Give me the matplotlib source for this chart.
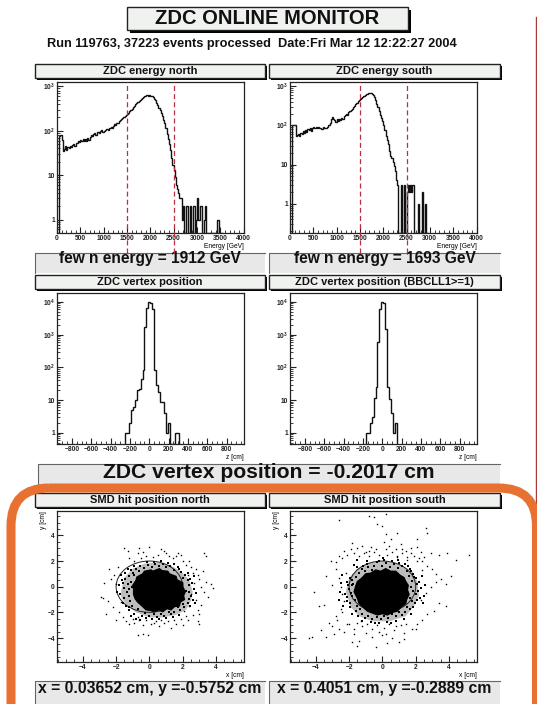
import numpy as np
import matplotlib
matplotlib.use("Agg")
import matplotlib.pyplot as plt
from matplotlib.patches import Rectangle, FancyBboxPatch, Ellipse, Polygon
from matplotlib.ticker import FixedLocator, FixedFormatter, MultipleLocator

plt.rcParams['font.family'] = ['Liberation Sans', 'DejaVu Sans']
plt.rcParams['font.weight'] = 'bold'
plt.rcParams['mathtext.fontset'] = 'custom'
plt.rcParams['mathtext.bf'] = 'Liberation Sans:bold'
plt.rcParams['mathtext.rm'] = 'Liberation Sans:bold'

W, H = 537, 704

# counts per 25 GeV bin, starting at 0 GeV
energy_north = [0, 0, 75, 80, 62, 35, 38, 46, 36, 44, 40, 46, 42, 48, 50, 46, 54, 52, 58, 56,
                62, 60, 64, 58, 66, 60, 70, 62, 72, 82, 78, 84, 90, 82, 92, 96, 90, 98, 104, 96,
                100, 104, 108, 112, 104, 118, 124, 116, 128, 140, 132, 146, 150, 165, 172, 185,
                190, 205, 215, 230, 240, 255, 275, 295, 310, 335, 365, 395, 420, 445, 470, 500,
                530, 555, 580, 610, 625, 640, 615, 630, 600, 590, 560, 525, 490, 430, 380, 330,
                290, 250, 215, 175, 150, 115, 85, 66, 50, 36, 25, 17, 13, 9, 6, 5, 4, 3, 3, 1,
                2, 0, 0, 2, 0, 0, 2, 0, 0, 2, 0, 1, 3, 1, 1, 2, 0, 0, 1, 2, 0, 0, 0, 0, 0, 0, 0,
                0, 0, 1, 1, 0, 0, 0]
energy_south = [0, 0, 100, 100, 100, 55, 58, 62, 55, 66, 60, 72, 65, 78, 70, 82, 76, 88, 72, 85,
                90, 84, 92, 86, 90, 84, 88, 80, 90, 84, 86, 88, 92, 100, 118, 145, 165, 150, 140,
                125, 145, 130, 150, 135, 155, 145, 170, 180, 195, 185, 215, 230, 255, 265, 300,
                320, 355, 385, 420, 445, 480, 510, 540, 570, 595, 620, 650, 665, 680, 670, 650,
                590, 520, 440, 360, 290, 235, 190, 160, 130, 105, 75, 55, 42, 33, 22, 17, 15, 12,
                9, 7, 4, 3, 0, 0, 3, 0, 0, 3, 0, 2, 3, 2, 3, 2, 3, 0, 0, 0, 0, 1, 0, 0, 2, 0, 0, 1, 0]
energy_bin = 25
energy_cuts = [1500, 2500]

# counts per 20 cm bin
vertex_north = [1, 1, 2, 5, 6, 10, 20, 22, 45, 85, 1700, 6300, 10000, 9500, 6000, 85, 30, 18, 9, 9,
                4, 1, 2, 0, 0, 0, 1, 1]
vertex_north_start = -250
vertex_south = [1, 1, 2, 3, 12, 25, 600, 6000, 10000, 9000, 1500, 25, 11, 4, 1, 2]
vertex_south_start = -170
vertex_bin = 20

# dense core and surrounding halo of the SMD hit maps, outlines
core_north_x = [-0.95, -1.0, -0.8, -0.75, -0.4, -0.3, 0.1, 0.2, 0.6, 0.75, 1.1, 1.2, 1.6, 1.65, 2.0, 2.0, 2.15, 2.05, 2.1, 1.85,
                1.8, 1.5, 1.3, 1.05, 0.8, 0.55, 0.3, 0.05, -0.2, -0.4, -0.7, -0.85, -0.95]
core_north_y = [-0.2, 0.1, 0.5, 0.75, 1.0, 1.2, 1.3, 1.2, 1.4, 1.25, 1.2, 1.0, 0.8, 0.55, 0.3, 0.0, -0.4, -0.7, -1.0, -1.2,
                -1.5, -1.55, -1.8, -1.7, -1.95, -1.8, -1.95, -1.85, -1.8, -1.55, -1.2, -0.95, -0.6]
halo_north_x = [-1.7, -1.5, -1.0, -0.3, 0.5, 1.2, 1.9, 2.4, 2.6, 2.5, 2.2, 1.6, 0.8, 0.0, -0.8, -1.4, -1.7]
halo_north_y = [-0.3, 0.7, 1.4, 1.8, 1.9, 1.7, 1.2, 0.5, -0.4, -1.1, -1.8, -2.2, -2.4, -2.4, -2.0, -1.4, -0.8]
core_south_x = [-1.7, -1.6, -1.5, -1.25, -1.0, -0.7, -0.4, -0.1, 0.2, 0.5, 0.8, 1.05, 1.3, 1.4, 1.55, 1.5, 1.6, 1.45, 1.4, 1.1,
                0.9, 0.6, 0.3, 0.0, -0.3, -0.6, -0.9, -1.15, -1.4, -1.5, -1.7]
core_south_y = [-0.4, 0.05, 0.4, 0.65, 1.0, 1.05, 1.3, 1.2, 1.4, 1.2, 1.2, 0.9, 0.7, 0.4, 0.1, -0.25, -0.6, -1.0, -1.3, -1.6,
                -1.9, -2.0, -2.2, -2.1, -2.2, -2.05, -1.9, -1.6, -1.3, -0.9, -0.4]
halo_south_x = [-2.2, -2.0, -1.5, -0.7, 0.2, 1.1, 1.8, 2.1, 2.2, 1.9, 1.4, 0.4, -0.6, -1.4, -1.9, -2.2]
halo_south_y = [-0.4, 0.7, 1.4, 1.9, 2.0, 1.7, 1.2, 0.4, -0.7, -1.5, -2.3, -2.7, -2.7, -2.3, -1.6, -0.4]
guide_radius = 2

# single hits outside the core
north_x = [-1.5, -1.3, -0.6, -0.4, 0.0, 0.7, 0.9, 1.2, 1.7, 1.9, 3.3, 3.4, -0.5, -0.2, 0.2, 0.5, 1.0, 1.4, 1.6,
           -1.2, -0.9, -0.7, 2.0, 2.2, 2.4, 2.5, 2.6, 2.8, 2.9, 3.0, 3.2, 3.4, 3.7, 3.8, 2.3, 2.7, 3.1, 3.3,
           -2.4, -2.3, -2.1, -2.0, -1.9, -2.8, -2.7, -2.9, -2.5, -2.2, -1.8, -1.6, -1.7, -2.6, -2.0, -1.4,
           -1.2, -0.9, -0.7, -0.4, 0.1, 0.4, 0.6, 0.9, 1.3, 1.6, 2.0, 2.3, 2.9, 3.0, -0.7, -0.4, -0.1,
           -1.0, -0.6, -0.2, 0.3, 0.7, 1.1, 1.5, 1.9, 2.6, 2.9, 3.1, 2.8, 2.5, 3.5, 3.0, 2.2, 2.1, 2.4]
north_y = [3.0, 2.8, 3.0, 2.7, 3.1, 2.9, 2.8, 2.4, 2.6, 2.5, 2.6, 2.4, 2.2, 2.4, 2.3, 2.5, 2.6, 2.2, 2.4,
           2.2, 2.0, 2.6, 2.0, 1.7, 2.0, 1.5, 1.1, 1.4, 0.9, 0.6, 1.2, 0.4, 0.2, -0.1, 0.9, 0.3, 0.0, -0.4,
           1.4, 0.6, 0.9, 0.2, 1.5, -0.9, 0.3, -0.8, -1.1, -1.6, -2.0, -2.4, -1.2, -2.1, -2.6, -2.7,
           -2.9, -2.8, -2.4, -3.0, -2.9, -2.7, -3.1, -2.8, -3.2, -2.9, -3.0, -2.6, -2.7, -2.9, -3.8, -3.7, -3.8,
           -2.5, -2.6, -2.6, -2.8, -2.6, -2.7, -2.6, -2.5, -2.2, -1.8, -1.4, -1.0, -0.6, -0.8, -2.1, -2.3, -1.9, -1.5]
south_x = [-0.8, -0.5, 0.2, -2.6, -0.3, 0.0, 2.6, 2.7, 0.9, 2.1, 0.2, 0.5, -1.8, -1.5, -1.2, -1.0, -0.7, -0.4, 0.1, 0.4, 0.8,
           1.1, 1.4, 1.7, 2.1, 2.3, 2.5, 2.9, 3.4, 3.9, 4.4, 5.2, -3.1, -2.8, -2.6, -2.4, -2.3, -2.1, -1.9,
           -1.7, -1.4, -1.1, -0.8, -0.5, -0.2, 0.3, 0.6, 0.9, 1.2, 1.5, 1.9, 2.2, 2.4, 2.7, 3.0, 3.2, 3.5, 3.8, 4.1,
           -4.1, -3.8, -3.5, -3.4, -3.0, -2.8, -2.6, -2.5, -2.4, -2.2, -2.3, -2.5, -2.8, -3.2, -3.7, -4.2, -4.4,
           -3.4, -3.0, -2.9, -2.6, -2.3, -2.0, -1.7, -1.5, -1.2, -0.9, -0.6, -0.3, 0.1, 0.4, 0.8, 1.1, 1.4, 1.8, 2.1,
           2.4, 2.7, 3.1, 3.4, 3.8, 2.3, 2.6, 2.9, 3.2, -1.0, -0.6, -0.2, 0.2, 0.7, 1.3, 2.0, -1.8, -1.4, 0.3,
           -0.4, -1.5, 1.0, 1.3, 0.6, 0.0, -2.7, -2.4, -2.1, -1.7, -1.3, 2.4, 2.1, 1.7, 1.5, 1.2, 0.9, -0.8, 0.2]
south_y = [5.5, 5.4, 5.7, 5.2, 4.9, 4.7, 4.6, 4.2, 4.2, 3.7, 4.1, 3.7, 3.4, 3.0, 3.2, 2.7, 3.1, 2.9, 3.5, 3.2, 2.9,
           3.3, 2.8, 3.0, 3.1, 2.7, 2.3, 2.6, 2.5, 2.6, 2.1, 2.5, 2.0, 1.9, 2.4, 2.2, 2.8, 2.5, 2.9,
           2.6, 2.4, 2.6, 2.4, 2.7, 2.5, 2.5, 2.7, 2.4, 2.6, 2.3, 2.4, 2.2, 2.0, 1.6, 1.4, 1.0, 0.6, 0.2, 0.8,
           -0.4, -1.5, -1.4, 0.8, 0.1, 1.4, 0.7, 0.0, -0.6, 1.1, -1.1, -1.7, -2.3, -2.8, -3.4, -3.9, -4.0,
           -3.9, -3.1, -3.7, -3.3, -3.5, -2.9, -3.3, -2.8, -3.1, -2.9, -3.3, -3.0, -3.2, -2.9, -3.1, -3.0, -2.9, -3.3, -2.9,
           -2.6, -2.1, -1.9, -1.3, -1.5, -1.0, -0.5, 0.0, 0.4, -3.6, -3.9, -3.5, -3.7, -3.4, -3.6, -3.3, -4.3, -4.2, -4.4,
           -4.7, -4.6, -4.3, -4.1, -4.0, -3.8, -2.6, -2.0, -2.9, -3.7, -2.7, 1.3, 2.0, 2.6, 2.1, 2.9, 2.3, 2.8, 2.9]

# extra hits in the ragged ring right round the core
ring_north_x = [-1.6, -1.45, -1.3, -1.2, -1.1, -1.55, -1.35, -1.2, -1.05, -1.75, -1.5, -1.25, -1.15, -1.6, -1.4, -1.2,
                -1.0, -0.8, -0.6, -0.9, -0.55, -0.3, -0.1, 0.15, 0.35, 0.55, 0.8, 1.0, 1.25, 1.5, 1.7, 1.9, 2.15, 2.3, 2.45,
                -0.15, 0.25, 0.7, 1.1, 1.45, 1.75, 2.0, 2.3, 2.4, 2.55, 2.65, 2.4, 2.5, 2.35, 2.2, 2.3, 2.45, 2.1, 2.0, 1.85,
                1.7, 1.5, 1.3, 1.15, 0.9, 0.7, 0.45, 0.25, 0.0, -0.25, -0.45, -0.7, -0.9, -1.05, -1.25, -1.1, -0.8, -0.55, -0.2,
                0.15, 0.6, 1.0, 1.4, 1.8, -1.7, -1.85, -1.95, -1.45, -1.3, -1.65, -1.1, -0.95, 2.7, 2.8, 2.6, 2.75]
ring_north_y = [0.3, 0.6, 0.2, 0.8, 0.4, -0.1, -0.4, -0.2, -0.05, -0.6, -0.9, -0.7, -1.1, -1.3, -1.5, -1.6,
                1.1, 1.4, 1.2, 0.9, 1.6, 1.45, 1.7, 1.55, 1.8, 1.6, 1.75, 1.5, 1.6, 1.3, 1.5, 1.15, 0.9, 1.1, 0.6,
                1.9, 1.95, 2.0, 1.85, 1.75, 1.4, 0.7, 0.5, 0.1, 0.3, -0.2, -0.4, -0.7, -0.95, -0.3, -1.3, -1.5, -1.6, -1.35, -1.85,
                -1.6, -1.95, -2.1, -1.95, -2.25, -2.1, -2.35, -2.15, -2.3, -2.05, -2.3, -1.75, -2.1, -1.5, -1.8, -2.3, -2.5, -2.6, -2.45,
                -2.55, -2.5, -2.45, -2.35, -2.2, 0.9, 0.1, -0.4, 1.1, 1.35, 0.5, 1.3, 1.6, 0.8, -0.5, -1.0, -1.3]
ring_south_x = [-2.1, -1.95, -1.85, -2.0, -1.9, -2.15, -2.05, -1.85, -1.75, -1.6, -2.25, -2.1, -1.95, -1.8, -1.65, -1.5, -1.35,
                -1.4, -1.25, -1.05, -0.85, -0.65, -1.5, -1.15, -0.9, -0.5, -0.3, -0.05, 0.2, 0.45, 0.7, 0.95, 1.2, 1.45, 1.65, 1.85, 2.0,
                -0.2, 0.1, 0.55, 1.0, 1.35, 1.7, 1.6, 1.75, 1.9, 2.05, 2.2, 2.3, 1.7, 1.85, 2.0, 2.15, 2.25, 1.65, 1.8, 1.95, 2.1, 1.5, 1.65, 1.85,
                1.35, 1.2, 1.0, 0.8, 0.6, 0.35, 0.1, -0.1, -0.35, -0.6, -0.85, -1.05, -1.25, -1.45, -1.6, -1.8, -1.95, -1.2, -0.7, -0.2, 0.3, 0.8, 1.3,
                -2.4, -2.5, -2.55, -2.35, -2.6, 2.4, 2.55, 2.5, 2.45, -1.7, -1.5, 1.55, 1.7, -0.95, 0.95, -0.45, 0.5, 0.05]
ring_south_y = [0.4, 0.7, 0.1, -0.2, -0.5, -0.8, 0.15, 0.5, 0.2, 0.75, -0.6, -1.1, -1.3, -0.7, -1.0, -1.5, -1.75,
                1.1, 1.35, 1.2, 1.5, 1.3, 1.55, 1.65, 1.8, 1.65, 1.9, 1.6, 1.85, 1.55, 1.75, 1.45, 1.6, 1.25, 1.4, 1.0, 0.7,
                2.0, 2.05, 2.0, 1.85, 1.75, 1.25, 0.8, 0.45, 0.75, 0.2, 0.4, -0.1, -0.05, -0.35, -0.6, -0.3, -0.9, -0.85, -1.15, -1.3, -1.0, -1.55, -1.75, -1.6,
                -2.0, -2.2, -1.95, -2.3, -2.15, -2.45, -2.3, -2.55, -2.35, -2.55, -2.25, -2.45, -2.1, -2.3, -1.9, -2.1, -1.6, -2.7, -2.75, -2.8, -2.75, -2.7, -2.5,
                0.9, 0.3, -0.4, -1.5, -1.0, 0.85, 0.1, -0.7, -1.3, 1.7, 2.05, 1.65, -2.1, 2.0, 2.1, -2.85, -2.85, 2.2]

fig = plt.figure(figsize=(W / 100, H / 100), dpi=100, facecolor='white')

# whole figure overlays in picture pixels, for header boxes and the orange frame
bg = fig.add_axes([0, 0, 1, 1], zorder=0)
fg = fig.add_axes([0, 0, 1, 1], zorder=10)
for a in (bg, fg):
    a.set_xlim(0, W)
    a.set_ylim(H, 0)
    a.axis('off')
    a.patch.set_alpha(0)


def box(x0, y0, x1, y1, text, size, shadow=1.5, fill='#f0f2f0', ty=None, lw=1.0):
    if shadow:
        bg.add_patch(Rectangle((x0 + shadow, y0 + shadow), x1 - x0, y1 - y0, fc='black', ec='none'))
    bg.add_patch(Rectangle((x0, y0), x1 - x0, y1 - y0, fc=fill, ec='#222222', lw=lw))
    bg.text((x0 + x1) / 2, (y0 + y1) / 2 if ty is None else ty, text, ha='center', va='center',
            fontsize=size, color='#111111')


def bar(x0, y0, x1, y1, text, size, ty):
    bg.add_patch(Rectangle((x0, y0), x1 - x0, y1 - y0, fc='#e8e8e8', ec='none'))
    bg.plot([x0, x0, x1], [y1, y0, y0], color='#666666', lw=0.8)
    bg.text((x0 + x1) / 2, ty, text, ha='center', va='center', fontsize=size, color='#111111')


def panel(x0, y0, x1, y1):
    ax = fig.add_axes([x0 / W, 1 - y1 / H, (x1 - x0) / W, (y1 - y0) / H], zorder=5)
    for s in ax.spines.values():
        s.set_linewidth(0.9)
        s.set_color('#222222')
    ax.tick_params(which='major', direction='in', length=4, width=0.8, labelsize=4.8, pad=1.5,
                   top=False, right=False, colors='#222222')
    ax.tick_params(which='minor', direction='in', length=2, width=0.6, top=False, right=False,
                   colors='#222222')
    return ax


def log_axis(ax, lo, hi, top_power):
    ax.set_yscale('log')
    ax.set_ylim(lo, hi)
    ticks = [10.0 ** p for p in range(top_power + 1)]
    labels = ['1', '10'] + [rf'$\mathbf{{10^{{{p}}}}}$' for p in range(2, top_power + 1)]
    ax.yaxis.set_major_locator(FixedLocator(ticks))
    ax.yaxis.set_major_formatter(FixedFormatter(labels))
    minor = [m * t for t in [0.1] + ticks for m in range(2, 10)]
    ax.yaxis.set_minor_locator(FixedLocator(minor))
    ax.yaxis.set_minor_formatter(FixedFormatter([]))


def hist(ax, counts, start, width, floor, lw=1.0):
    counts = np.array(counts, dtype=float)
    edges = start + width * np.arange(len(counts) + 1)
    ax.stairs(np.maximum(counts, floor), edges, baseline=floor, color='#111111', lw=lw)


def energy_panel(x0, counts, lo, hi):
    ax = panel(x0, 82, x0 + 186.5, 233)
    hist(ax, counts, 0, energy_bin, lo)
    ax.set_xlim(0, 4000)
    log_axis(ax, lo, hi, 3)
    ax.xaxis.set_major_locator(MultipleLocator(500))
    ax.xaxis.set_minor_locator(MultipleLocator(100))
    ax.set_xlabel('Energy [GeV]', loc='right', fontsize=4.8, labelpad=0.5)
    for c in energy_cuts:
        ax.axvline(c, ymin=-0.13, ymax=1.0, color='#b83040', lw=0.9, ls=(0, (4, 2.5)), clip_on=False, zorder=6)


def vertex_panel(x0, counts, start, lo, hi):
    ax = panel(x0, 293, x0 + 186.5, 444)
    hist(ax, counts, start, vertex_bin, lo)
    ax.set_xlim(-955, 975)
    log_axis(ax, lo, hi, 4)
    ax.xaxis.set_major_locator(FixedLocator(range(-800, 801, 200)))
    ax.xaxis.set_minor_locator(MultipleLocator(50))
    ax.set_xlabel('z [cm]', loc='right', fontsize=4.8, labelpad=0.5)


def smd_panel(x0, core_x, core_y, halo_x, halo_y, xs, ys, ring_x, ring_y):
    ax = panel(x0, 511, x0 + 186.5, 662)
    ax.add_patch(Polygon(np.column_stack([halo_x, halo_y]), closed=True, fc='#bdbdbd', ec='none'))
    ax.add_patch(Ellipse((0, 0), 2 * guide_radius, 2 * guide_radius, fc='none', ec='#222222', lw=0.7))
    ax.add_patch(Polygon(np.column_stack([core_x, core_y]), closed=True, fc='black', ec='black', lw=1.0))
    ax.plot(ring_x, ring_y, ls='none', marker='s', ms=1.5, mew=0, color='black')
    ax.plot(xs, ys, ls='none', marker='s', ms=1.0, mew=0, color='black')
    ax.set_xlim(-5.55, 5.65)
    ax.set_ylim(-5.87, 5.9)
    ax.xaxis.set_major_locator(FixedLocator([-4, -2, 0, 2, 4]))
    ax.yaxis.set_major_locator(FixedLocator([-4, -2, 0, 2, 4]))
    ax.xaxis.set_minor_locator(MultipleLocator(0.5))
    ax.yaxis.set_minor_locator(MultipleLocator(0.5))
    ax.set_xlabel('x [cm]', loc='right', fontsize=4.8, labelpad=0.5)
    ax.set_ylabel('y [cm]', loc='top', fontsize=4.8, labelpad=0.5)


# header
box(127, 7, 408, 30, 'ZDC ONLINE MONITOR', 14.5, shadow=3, ty=18)
bg.text(251.5, 44, 'Run 119763, 37223 events processed  Date:Fri Mar 12 12:22:27 2004',
        ha='center', va='center', fontsize=9.2, color='#111111')

# strips and result bars
box(35, 64, 265, 78, 'ZDC energy north', 8)
box(269, 64, 500, 78, 'ZDC energy south', 8)
bar(35, 253, 265, 273, 'few n energy = 1912 GeV', 11.2, 258)
bar(269, 253, 500, 273, 'few n energy = 1693 GeV', 11.2, 258)
box(35, 275, 265, 289, 'ZDC vertex position', 8)
box(269, 275, 500, 289, 'ZDC vertex position (BBCLL1>=1)', 8)
bar(38, 464, 500, 486, 'ZDC vertex position = -0.2017 cm', 15.2, 472)
box(35, 493, 265, 507, 'SMD hit position north', 8)
box(269, 493, 500, 507, 'SMD hit position south', 8)
bar(35, 681, 265, 704, 'x = 0.03652 cm, y =-0.5752 cm', 11.3, 688)
bar(269, 681, 500, 704, 'x = 0.4051 cm, y =-0.2889 cm', 11.3, 688)

energy_panel(57, energy_north, 0.5, 1250)
energy_panel(290, energy_south, 0.18, 1290)
vertex_panel(57, vertex_north, vertex_north_start, 0.46, 18700)
vertex_panel(290, vertex_south, vertex_south_start, 0.46, 18700)
smd_panel(57, core_north_x, core_north_y, halo_north_x, halo_north_y, north_x, north_y, ring_north_x, ring_north_y)
smd_panel(290, core_south_x, core_south_y, halo_south_x, halo_south_y, south_x, south_y, ring_south_x, ring_south_y)

# page edge line and the orange highlight frame
bg.plot([536, 536], [17, H], color='#a83838', lw=1.0)
fg.add_patch(FancyBboxPatch((11 + 38, 488 + 38), 525.5 - 76, 300, boxstyle='round,pad=38,rounding_size=38',
                            fc='none', ec='#e87030', lw=6.5, clip_on=True))

fig.savefig('out.png', dpi=100)
